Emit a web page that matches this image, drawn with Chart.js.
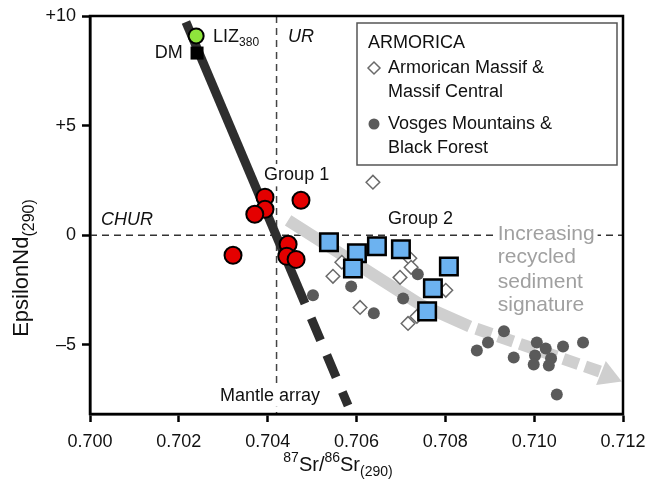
<!DOCTYPE html>
<html>
<head>
<meta charset="utf-8">
<script src="https://cdn.jsdelivr.net/npm/chart.js"></script>
<style>
  html, body { margin: 0; padding: 0; background: #fff; }
  canvas { display: block; }
</style>
</head>
<body>
<canvas id="srNdChart" width="646" height="483"></canvas>
<script>
//--------------------------------------
// Sr-Nd isotope plot, epsilonNd(290) vs 87Sr/86Sr(290)
//--------------------------------------

var fontFamily = '"Liberation Sans", Arial, Helvetica, sans-serif';

// axis ticks
var xTickValues = [0.700, 0.702, 0.704, 0.706, 0.708, 0.710, 0.712];
var yTickValues = [-5, 0, 5, 10];

// Group 1 (red circles)
var group1_sr = [0.70394, 0.70394, 0.70371, 0.70475, 0.70446, 0.70443, 0.70464, 0.70322];
var group1_nd = [1.74, 1.19, 0.96, 1.60, -0.41, -0.96, -1.10, -0.91];

// Group 2 (blue squares)
var group2_sr = [0.70538, 0.70601, 0.70592, 0.70646, 0.70700, 0.70808, 0.70772, 0.70759];
var group2_nd = [-0.32, -0.82, -1.51, -0.50, -0.64, -1.42, -2.42, -3.47];

// Armorican Massif & Massif Central (open diamonds)
var armorican_sr = [0.70637, 0.70547, 0.70567, 0.70608, 0.70698, 0.70720, 0.70723, 0.70801, 0.70716, 0.70736];
var armorican_nd = [2.42, -1.87, -1.23, -3.29, -1.92, -1.05, -1.46, -2.51, -4.02, -3.70];

// Vosges Mountains & Black Forest (grey dots)
var vosges_sr = [0.70502, 0.70588, 0.70639, 0.70705, 0.70738, 0.70932, 0.70896, 0.70871, 0.70954,
                 0.71006, 0.71026, 0.71065, 0.71110, 0.71002, 0.70999, 0.71038, 0.71033, 0.71051];
var vosges_nd = [-2.74, -2.33, -3.56, -2.88, -1.78, -4.38, -4.89, -5.25, -5.57,
                 -4.89, -5.16, -5.07, -4.89, -5.48, -5.89, -5.62, -5.94, -7.26];

// end members
var dm_sr  = [0.70241];
var dm_nd  = [8.31];
var liz_sr = [0.70239];
var liz_nd = [9.09];

// mantle array (solid part, then dashed continuation)
var mantleSolid_sr  = [0.70216, 0.70484];
var mantleSolid_nd  = [9.73, -3.11];
var mantleDashed_sr = [0.70484, 0.70581];
var mantleDashed_nd = [-3.11, -7.76];

// recycled sediment arrow
var sediment_sr = [0.70446, 0.70743, 0.70855, 0.71148];
var sediment_nd = [0.68, -3.15, -4.16, -6.21];
var arrowHead_sr = [0.71166];
var arrowHead_nd = [-6.41];

// reference lines CHUR / UR
var chur_sr = [0.700, 0.712];
var chur_nd = [0, 0];
var ur_sr   = [0.7042, 0.7042];
var ur_nd   = [10, -8.15];

function pts(xs, ys) {
    return xs.map(function (x, i) { return { x: x, y: ys[i] }; });
}

// text labels placed in data coordinates
var plotLabels = [
    { sr: 0.70277, nd: 9.04,  parts: [{ t: 'LIZ' }, { t: '380', s: 'sub' }], align: 'left' },
    { sr: 0.70209, nd: 8.31,  parts: [{ t: 'DM' }], align: 'right' },
    { sr: 0.70446, nd: 9.04,  parts: [{ t: 'UR' }], align: 'left', italic: true },
    { sr: 0.70025, nd: 0.68,  parts: [{ t: 'CHUR' }], align: 'left', italic: true },
    { sr: 0.70392, nd: 2.74,  parts: [{ t: 'Group 1' }], align: 'left', clear: true },
    { sr: 0.70671, nd: 0.73,  parts: [{ t: 'Group 2' }], align: 'left' },
    { sr: 0.70518, nd: -7.31, parts: [{ t: 'Mantle array' }], align: 'right', clear: true },
    { sr: 0.70918, nd: 0.05,  parts: [{ t: 'Increasing' }], align: 'left', color: '#a0a0a0', size: 21, clear: true },
    { sr: 0.70918, nd: -1.02, parts: [{ t: 'recycled' }], align: 'left', color: '#a0a0a0', size: 21 },
    { sr: 0.70918, nd: -2.12, parts: [{ t: 'sediment' }], align: 'left', color: '#a0a0a0', size: 21 },
    { sr: 0.70918, nd: -3.18, parts: [{ t: 'signature' }], align: 'left', color: '#a0a0a0', size: 21 }
];

function drawRich(ctx, parts, x, y, size, align, color, italic, clear, subRatio) {
    var w = 0;
    var ratio = subRatio || 0.68;
    parts.forEach(function (p) {
        p._size = p.s ? Math.round(size * ratio) : size;
        ctx.font = (italic ? 'italic ' : '') + p._size + 'px ' + fontFamily;
        p._w = ctx.measureText(p.t).width;
        w += p._w;
    });
    var x0 = x;
    if (align == 'right')       { x0 = x - w; }
    else if (align == 'center') { x0 = x - w / 2; }
    if (clear) {
        ctx.fillStyle = '#fff';
        ctx.fillRect(x0 - 3, y - size * 0.62, w + 6, size * 1.24);
    }
    ctx.fillStyle    = color;
    ctx.textAlign    = 'left';
    ctx.textBaseline = 'middle';
    parts.forEach(function (p) {
        var dy = 0;
        if (p.s == 'sub') { dy = size * 0.34; }
        if (p.s == 'sup') { dy = -size * 0.36; }
        ctx.font = (italic ? 'italic ' : '') + p._size + 'px ' + fontFamily;
        ctx.fillText(p.t, x0, y + dy);
        x0 += p._w;
    });
}

var figureDecor = {
    id: 'figureDecor',
    afterDatasetsDraw: function (chart) {
        var ctx = chart.ctx;
        var xs  = chart.scales.x;
        var ys  = chart.scales.y;
        ctx.save();
        plotLabels.forEach(function (lb) {
            drawRich(ctx, lb.parts, xs.getPixelForValue(lb.sr), ys.getPixelForValue(lb.nd),
                     lb.size || 18, lb.align, lb.color || '#111', lb.italic, lb.clear);
        });

        // legend box
        ctx.fillStyle   = '#fff';
        ctx.fillRect(357, 23, 260, 142);
        ctx.strokeStyle = '#555';
        ctx.lineWidth   = 1.5;
        ctx.strokeRect(357, 23, 260, 142);
        drawRich(ctx, [{ t: 'ARMORICA' }], 368, 43, 18, 'left', '#111');
        ctx.fillStyle   = '#fff';
        ctx.strokeStyle = '#6a6a6a';
        Chart.helpers.drawPoint(ctx, { pointStyle: 'rectRot', radius: 6, rotation: 0, borderWidth: 1.5 }, 374, 68);
        drawRich(ctx, [{ t: 'Armorican Massif &' }], 388, 68, 18, 'left', '#111');
        drawRich(ctx, [{ t: 'Massif Central' }], 388, 92, 18, 'left', '#111');
        ctx.fillStyle   = '#5a5a5a';
        ctx.strokeStyle = '#5a5a5a';
        Chart.helpers.drawPoint(ctx, { pointStyle: 'circle', radius: 5.5, rotation: 0, borderWidth: 0 }, 374, 124);
        drawRich(ctx, [{ t: 'Vosges Mountains &' }], 388, 124, 18, 'left', '#111');
        drawRich(ctx, [{ t: 'Black Forest' }], 388, 148, 18, 'left', '#111');
        ctx.restore();
    },
    afterDraw: function (chart) {
        var ctx  = chart.ctx;
        var area = chart.chartArea;
        ctx.save();
        ctx.strokeStyle = '#000';
        ctx.lineWidth   = 2.5;
        ctx.strokeRect(area.left, area.top, area.right - area.left, area.bottom - area.top);

        // axis titles
        drawRich(ctx, [{ t: '87', s: 'sup' }, { t: 'Sr/' }, { t: '86', s: 'sup' }, { t: 'Sr' }, { t: '(290)', s: 'sub' }],
                 338, 465, 20, 'center', '#111', false, false, 0.7);
        ctx.translate(22, 268);
        ctx.rotate(-Math.PI / 2);
        drawRich(ctx, [{ t: 'EpsilonNd' }, { t: '(290)', s: 'sub' }], 0, 0, 22, 'center', '#111', false, false, 0.72);
        ctx.restore();
    }
};

function lineSet(label, xs, ys, color, width, dash, order) {
    return {
        label: label, data: pts(xs, ys), showLine: true, pointRadius: 0, pointHoverRadius: 0,
        borderColor: color, borderWidth: width, borderDash: dash || [], borderCapStyle: 'butt',
        borderJoinStyle: 'round', order: order
    };
}

var mantleDashed = lineSet('Mantle array dashed', mantleDashed_sr, mantleDashed_nd, '#2e2e2e', 9, [24, 16], 6);
mantleDashed.borderDashOffset = 24;

var sedimentLine = lineSet('Sediment trend', sediment_sr, sediment_nd, '#cfcfcf', 12, [], 8);
sedimentLine.segment = {
    borderDash:       function (c) { return c.p0DataIndex >= 2 ? [16, 7] : undefined; },
    borderDashOffset: function (c) { return c.p0DataIndex >= 2 ? 16 : undefined; }
};

var datasets = [
    lineSet('CHUR', chur_sr, chur_nd, '#333', 1.5, [7, 5], 10),
    lineSet('UR', ur_sr, ur_nd, '#444', 1.5, [7, 5], 10),
    sedimentLine,
    { label: 'Arrow head', data: pts(arrowHead_sr, arrowHead_nd), pointStyle: 'triangle', rotation: 112,
      pointRadius: 15, backgroundColor: '#cfcfcf', borderWidth: 0, order: 8 },
    lineSet('Mantle array', mantleSolid_sr, mantleSolid_nd, '#2e2e2e', 9, [], 6),
    mantleDashed,
    { label: 'Armorican Massif & Massif Central', data: pts(armorican_sr, armorican_nd), pointStyle: 'rectRot',
      pointRadius: 6.8, backgroundColor: '#fff', borderColor: '#6a6a6a', borderWidth: 1.5, order: 5 },
    { label: 'Vosges Mountains & Black Forest', data: pts(vosges_sr, vosges_nd), pointStyle: 'circle',
      pointRadius: 6, backgroundColor: '#5a5a5a', borderColor: '#5a5a5a', borderWidth: 0, order: 4 },
    { label: 'Group 2', data: pts(group2_sr, group2_nd), pointStyle: 'rect',
      pointRadius: 12.4, backgroundColor: '#6cb2f0', borderColor: '#000', borderWidth: 2.5, order: 3 },
    { label: 'Group 1', data: pts(group1_sr, group1_nd), pointStyle: 'circle',
      pointRadius: 8.5, backgroundColor: '#e40000', borderColor: '#000', borderWidth: 2, order: 2 },
    { label: 'DM', data: pts(dm_sr, dm_nd), pointStyle: 'rect',
      pointRadius: 9.2, backgroundColor: '#000', borderWidth: 0, order: 1 },
    { label: 'LIZ380', data: pts(liz_sr, liz_nd), pointStyle: 'circle',
      pointRadius: 7.5, backgroundColor: '#8ee43c', borderColor: '#000', borderWidth: 2, order: 0 }
];

var chart = new Chart(document.getElementById('srNdChart'), {
    type: 'scatter',
    data: { datasets: datasets },
    plugins: [figureDecor],
    options: {
        responsive: false,
        animation: false,
        events: [],
        layout: { padding: { top: 16, right: 23, left: 0, bottom: 0 } },
        plugins: {
            legend:  { display: false },
            tooltip: { enabled: false }
        },
        scales: {
            x: {
                type: 'linear', min: 0.700, max: 0.712,
                afterBuildTicks: function (s) { s.ticks = xTickValues.map(function (v) { return { value: v }; }); },
                afterFit: function (s) { s.height = 69; s.paddingLeft = 0; s.paddingRight = 0; },
                ticks: {
                    autoSkip: false, maxRotation: 0, padding: 9, color: '#111',
                    font: { family: fontFamily, size: 18 },
                    callback: function (v) { return Number(v).toFixed(3); }
                },
                grid:   { drawOnChartArea: false, drawTicks: true, tickLength: 8, tickWidth: 2.5, tickColor: '#000' },
                border: { display: true, width: 2.5, color: '#000' }
            },
            y: {
                type: 'linear', min: -8.15, max: 10,
                afterBuildTicks: function (s) { s.ticks = yTickValues.map(function (v) { return { value: v }; }); },
                afterFit: function (s) { s.width = 90; s.paddingTop = 0; s.paddingBottom = 0; },
                ticks: {
                    autoSkip: false, padding: 6, color: '#111',
                    font: { family: fontFamily, size: 18 },
                    callback: function (v) {
                        if (v > 0) { return '+' + v; }
                        if (v < 0) { return '\u2013' + Math.abs(v); }
                        return '0';
                    }
                },
                grid:   { drawOnChartArea: false, drawTicks: true, tickLength: 8, tickWidth: 2.5, tickColor: '#000' },
                border: { display: true, width: 2.5, color: '#000' }
            }
        }
    }
});
</script>
</body>
</html>
